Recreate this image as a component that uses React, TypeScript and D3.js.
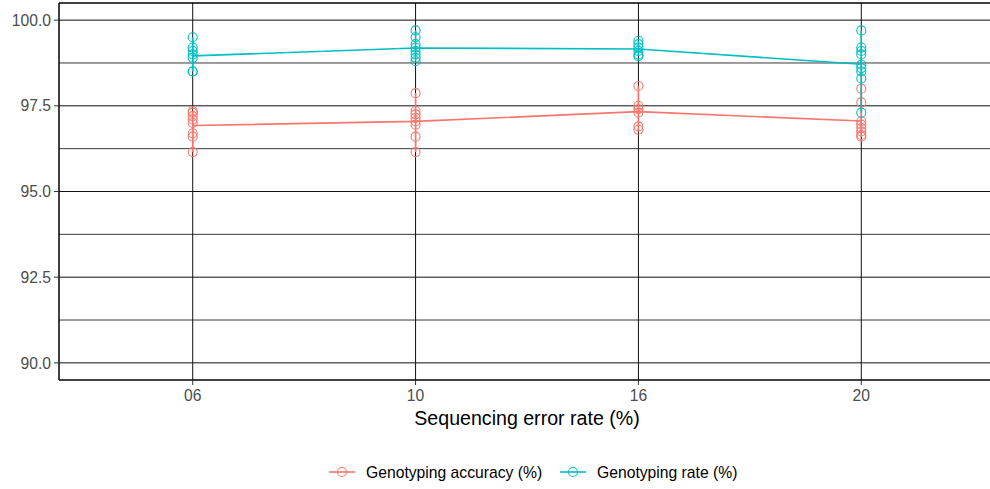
import React from "react";
import * as d3 from "d3";

const categories = ["06", "10", "16", "20"];
const accuracy: number[][] = [
  [97.35, 97.3, 97.2, 97.1, 97.0, 96.7, 96.6, 96.15],
  [97.87, 97.35, 97.25, 97.15, 97.05, 96.95, 96.6, 96.15],
  [98.08, 97.5, 97.4, 97.3, 96.9, 96.8],
  [98.0, 97.6, 97.05, 96.95, 96.85, 96.75, 96.65, 96.6],
];
const rate: number[][] = [
  [99.5, 99.2, 99.1, 99.0, 98.9, 98.5, 98.5],
  [99.7, 99.5, 99.3, 99.2, 99.1, 99.0, 98.9, 98.8],
  [99.4, 99.3, 99.2, 99.1, 99.0, 98.95],
  [99.7, 99.2, 99.1, 99.0, 98.7, 98.6, 98.5, 98.3, 97.3],
];
const yTicks = [90, 92.5, 95, 97.5, 100];
const yMinor = [91.25, 93.75, 96.25, 98.75];
const seriesNames = ["Genotyping accuracy (%)", "Genotyping rate (%)"];
const seriesColors = ["#F8766D", "#00BFC4"];
const xTitle = "Sequencing error rate (%)";

export default function App() {
  const W = 990, H = 489;
  const left = 59, right = 995, top = 3, bottom = 380;
  const y = d3.scaleLinear().domain([89.5, 100.5]).range([bottom, top]);
  const x = d3.scalePoint<string>().domain(categories).range([left, right]).padding(0.6);
  const font = "'Liberation Sans', Arial, sans-serif";
  const series = [accuracy, rate];
  const line = d3.line<[string, number]>().x((d) => x(d[0])!).y((d) => y(d[1]));

  return (
    <svg width={W} height={H} style={{ position: "absolute", left: 0, top: 0 }} fontFamily={font}>
      <rect x={0} y={0} width={W} height={H} fill="white" />
      {yMinor.map((v) => (
        <line key={"m" + v} x1={left} x2={right} y1={y(v)} y2={y(v)} stroke="#222" strokeWidth={0.9} />
      ))}
      {yTicks.map((v) => (
        <line key={"g" + v} x1={left} x2={right} y1={y(v)} y2={y(v)} stroke="#111" strokeWidth={1} />
      ))}
      {categories.map((c) => (
        <line key={"v" + c} x1={x(c)} x2={x(c)} y1={top} y2={bottom} stroke="#111" strokeWidth={1} />
      ))}
      {/* panel border */}
      <line x1={left} x2={right} y1={top} y2={top} stroke="#000" strokeWidth={1.5} />
      <line x1={left} x2={right} y1={bottom} y2={bottom} stroke="#000" strokeWidth={1.5} />
      <line x1={left} x2={left} y1={top} y2={bottom} stroke="#000" strokeWidth={1.5} />
      {/* ticks */}
      {yTicks.map((v) => (
        <g key={"t" + v}>
          <line x1={left - 5} x2={left} y1={y(v)} y2={y(v)} stroke="#333" strokeWidth={1} />
          <text x={left - 8} y={y(v)} dy="0.36em" textAnchor="end" fontSize={15.7} fill="#4D4D4D">
            {v.toFixed(1)}
          </text>
        </g>
      ))}
      {categories.map((c) => (
        <g key={"xt" + c}>
          <line x1={x(c)} x2={x(c)} y1={bottom} y2={bottom + 5} stroke="#333" strokeWidth={1} />
          <text x={x(c)} y={bottom + 15} dy="0.36em" textAnchor="middle" fontSize={15.7} fill="#4D4D4D">
            {c}
          </text>
        </g>
      ))}
      <text x={(left + right) / 2} y={418} dy="0.36em" textAnchor="middle" fontSize={19.6} fill="#000">
        {xTitle}
      </text>
      {series.map((s, si) => {
        const col = seriesColors[si];
        const means: [string, number][] = categories.map((c, i) => [c, d3.mean(s[i])!]);
        return (
          <g key={"s" + si}>
            {categories.map((c, i) => (
              <line key={"r" + c} x1={x(c)} x2={x(c)} y1={y(d3.min(s[i])!)} y2={y(d3.max(s[i])!)} stroke={col} strokeWidth={1.6} />
            ))}
            <path d={line(means)!} fill="none" stroke={col} strokeWidth={1.6} />
            {categories.map((c, i) =>
              s[i].map((v, j) => (
                <circle key={c + "-" + j} cx={x(c)} cy={y(v)} r={4.5} fill="none" stroke={col} strokeWidth={1.1} />
              ))
            )}
          </g>
        );
      })}
      {/* legend */}
      {[0, 1].map((i) => {
        const kx = i === 0 ? 329 : 560;
        return (
          <g key={"l" + i}>
            <line x1={kx} x2={kx + 26} y1={472} y2={472} stroke={seriesColors[i]} strokeWidth={1.6} />
            <circle cx={kx + 13} cy={472} r={4.5} fill="none" stroke={seriesColors[i]} strokeWidth={1.1} />
            <text x={kx + 37} y={472} dy="0.36em" fontSize={15.7} fill="#000">
              {seriesNames[i]}
            </text>
          </g>
        );
      })}
    </svg>
  );
}
